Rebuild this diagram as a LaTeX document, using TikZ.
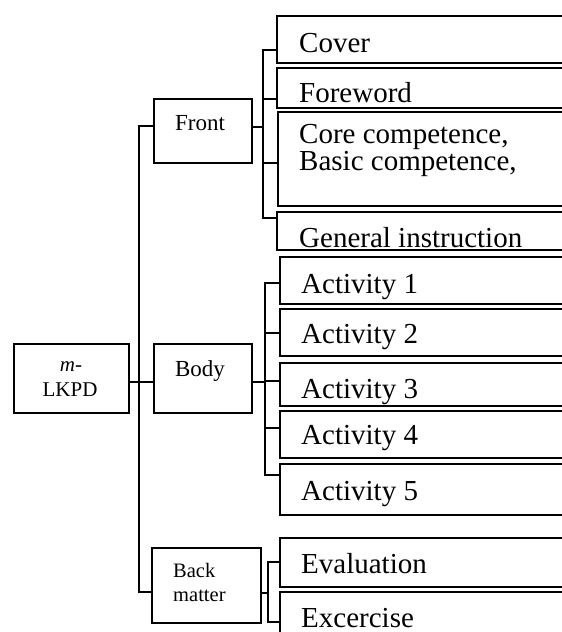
\documentclass[tikz,border=0pt]{standalone}
\usepackage{fontspec}
\setmainfont{Liberation Serif}
\begin{document}
\begin{tikzpicture}[x=1pt,y=-1pt,
  box/.style={draw, line width=1.8pt, inner sep=0pt},
  leaf/.style={draw, line width=2pt, inner sep=0pt, minimum width=323pt},
  lbl/.style={anchor=base west, inner sep=0pt, font=\fontsize{29}{33}\selectfont},
  mid/.style={anchor=base, inner sep=0pt, font=\fontsize{23}{27}\selectfont},
  small/.style={anchor=base west, inner sep=0pt, font=\fontsize{20.5}{24}\selectfont},
  conn/.style={line width=1.8pt}]
\useasboundingbox (0,0) rectangle (562,632);
% left boxes
\node[box, minimum width=115pt, minimum height=69pt] (root) at (71.5,378.5) {};
\node[box, minimum width=98pt, minimum height=64pt] (front) at (203,131) {};
\node[box, minimum width=98pt, minimum height=69pt] (body) at (203,378.5) {};
\node[box, minimum width=109pt, minimum height=75pt] (back) at (206.5,585.5) {};
\node[inner sep=0pt, anchor=base, font=\fontsize{21}{25}\selectfont] (rootA) at (71,371) {\textit{m}-};
\node[inner sep=0pt, anchor=base, font=\fontsize{21}{25}\selectfont] (rootB) at (70,396) {LKPD};
\node[mid] (frontT) at (200,130) {Front};
\node[mid] (bodyT) at (200,376) {Body};
\node[small] (backA) at (173,577) {Back};
\node[small] (backB) at (173,601) {matter};
% right boxes
\node[leaf, minimum height=47pt] (cover) at (438.5,39.5) {};
\node[leaf, minimum height=40pt] (fore) at (438.5,88) {};
\node[leaf, minimum height=94pt] (core) at (439.5,159) {};
\node[leaf, minimum height=38pt] (gen) at (438.5,231) {};
\node[leaf, minimum height=47pt] (a1) at (441.5,280.5) {};
\node[leaf, minimum height=47pt] (a2) at (441.5,332.5) {};
\node[leaf, minimum height=43pt] (a3) at (441.5,384.5) {};
\node[leaf, minimum height=47pt] (a4) at (441.5,434.5) {};
\node[leaf, minimum height=51pt] (a5) at (441.5,489.5) {};
\node[leaf, minimum height=49pt] (eval) at (441.5,562.5) {};
\node[leaf, minimum height=58pt] (exc) at (441.5,621) {};
% labels
\node[lbl] (coverT) at (299,52) {Cover};
\node[lbl] (foreT) at (299,102) {Foreword};
\node[lbl] (coreT) at (299,143) {Core competence,};
\node[lbl] (basicT) at (299,170) {Basic competence,};
\node[lbl] (genT) at (299,247) {General instruction};
\node[lbl] (a1T) at (301,293) {Activity 1};
\node[lbl] (a2T) at (301,343) {Activity 2};
\node[lbl] (a3T) at (301,398) {Activity 3};
\node[lbl] (a4T) at (301,444) {Activity 4};
\node[lbl] (a5T) at (301,500) {Activity 5};
\node[lbl] (evalT) at (301,573) {Evaluation};
\node[lbl] (excT) at (301,627) {Excercise};
% root connectors
\draw[conn] (root.east |- 0,382) -- (body.west |- 0,382);
\draw[conn] (front.west |- 0,126) -| (139,592) -- (back.west |- 0,592);
% front connectors
\draw[conn] (front.east |- 0,127) -- (263,127);
\draw[conn] (cover.west |- 0,50) -| (263,218) -- (gen.west |- 0,218);
\draw[conn] (fore.west |- 0,99) -- (263,99);
\draw[conn] (core.west |- 0,163) -- (263,163);
% body connectors
\draw[conn] (body.east |- 0,382) -- (265,382);
\draw[conn] (a1.west |- 0,283) -| (265,475) -- (a5.west |- 0,475);
\draw[conn] (a2.west |- 0,333) -- (265,333);
\draw[conn] (a3.west |- 0,381) -- (265,381);
\draw[conn] (a4.west |- 0,428) -- (265,428);
% back connectors
\draw[conn] (back.east |- 0,593) -- (268,593);
\draw[conn] (eval.west |- 0,562) -| (268,622) -- (exc.west |- 0,622);
\end{tikzpicture}
\end{document}
